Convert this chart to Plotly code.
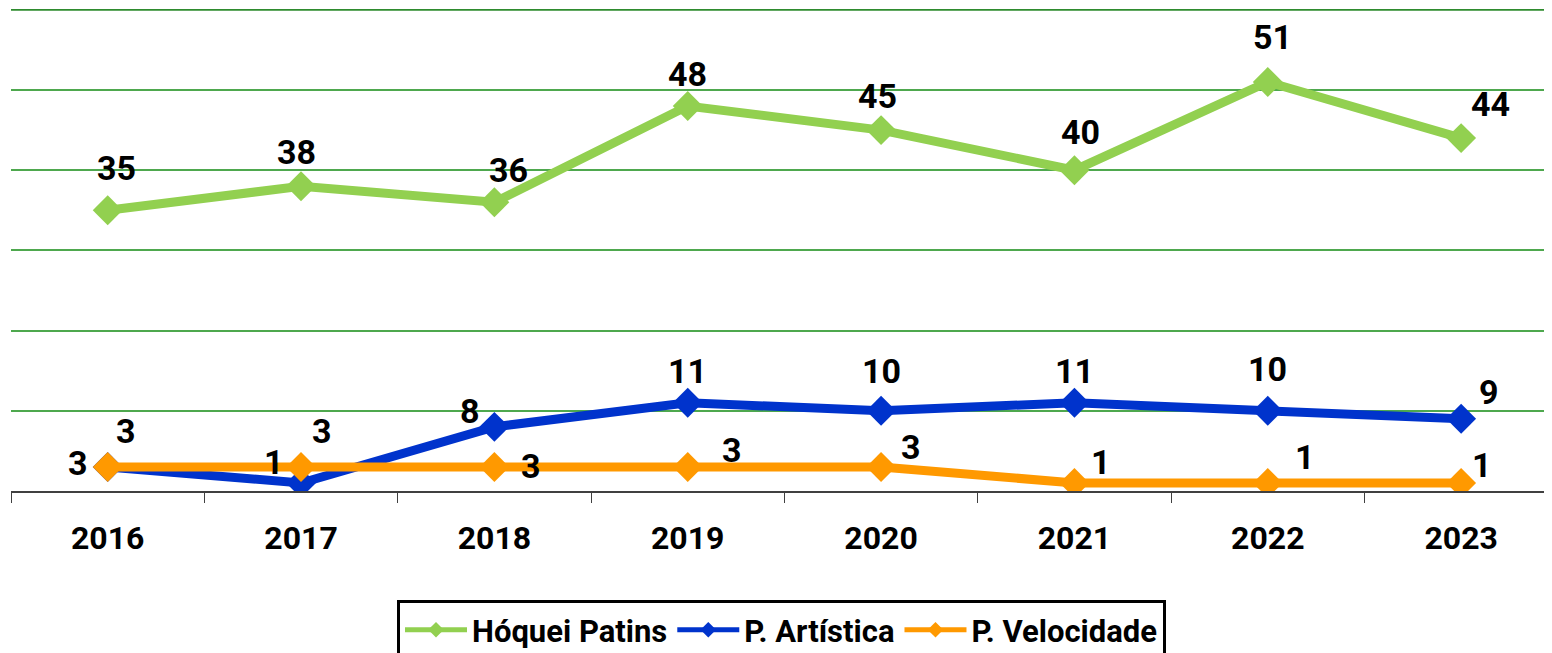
import plotly.graph_objects as go

# chart data
years = ["2016", "2017", "2018", "2019", "2020", "2021", "2022", "2023"]
hoquei = [35, 38, 36, 48, 45, 40, 51, 44]
artistica = [3, 1, 8, 11, 10, 11, 10, 9]
velocidade = [3, 3, 3, 3, 3, 1, 1, 1]

# label offsets in pixels (dx, dy) relative to each marker
off_hoquei = [(9, -42), (-5, -34), (14, -32), (0, -32), (-4, -34), (6, -38), (5, -45), (29, -34)]
off_artistica = [(-30, -4), (-27, -21), (-24, -16), (0, -32), (0, -40), (0, -32), (0, -42), (28, -27)]
off_velocidade = [(18, -36), (21, -36), (37, -1), (44, -17), (30, -20), (27, -21), (37, -26), (21, -18)]

FONT = "Roboto, Liberation Sans, sans-serif"

series = [
    ("Hóquei Patins", hoquei, "#92D050", off_hoquei),
    ("P. Artística", artistica, "#0033CC", off_artistica),
    ("P. Velocidade", velocidade, "#FF9900", off_velocidade),
]

fig = go.Figure()
annotations = []
for name, vals, color, offs in series:
    fig.add_trace(go.Scatter(
        x=years, y=vals, name=name, mode="lines+markers",
        line=dict(color=color, width=9),
        marker=dict(symbol="diamond", size=23, color=color),
    ))
    for i, (v, (dx, dy)) in enumerate(zip(vals, offs)):
        annotations.append(dict(
            x=i, y=v, xref="x", yref="y", text=f"<b>{v}</b>", showarrow=False,
            xshift=dx, yshift=-dy,
            font=dict(family=FONT, size=34, color="black"),
        ))

# page body has an 8px margin, so the figure is sized to fit inside it
fig.update_layout(
    width=1544, height=645,
    margin=dict(l=3, r=0, t=1, b=162),
    plot_bgcolor="white", paper_bgcolor="white",
    showlegend=True,
    legend=dict(
        orientation="h", x=0.5, xanchor="center", xref="paper",
        y=0.082, yanchor="top", yref="container",
        bordercolor="black", borderwidth=3,
        font=dict(family=FONT, size=31, color="black", weight="bold"),
        itemsizing="constant", itemwidth=62,
    ),
    annotations=annotations,
    # darker top gridline
    shapes=[dict(type="line", xref="paper", yref="y", x0=0, x1=1, y0=60, y1=60,
                 line=dict(color="#2E8B2E", width=2), layer="below")],
)
fig.update_xaxes(
    type="category", range=[-0.5, 7.47], automargin=False,
    showline=True, linecolor="#404040", linewidth=1.5,
    ticks="outside", ticklen=10, tickcolor="#404040", tickson="boundaries",
    showgrid=False, ticklabelstandoff=18,
    tickfont=dict(family=FONT, size=32, color="black", weight="bold"),
)
fig.update_yaxes(
    range=[0, 60.1], dtick=10, showticklabels=False, automargin=False,
    showgrid=True, gridcolor="#4EA84E", gridwidth=1.5, zeroline=False,
)

fig.write_html("out.html")
